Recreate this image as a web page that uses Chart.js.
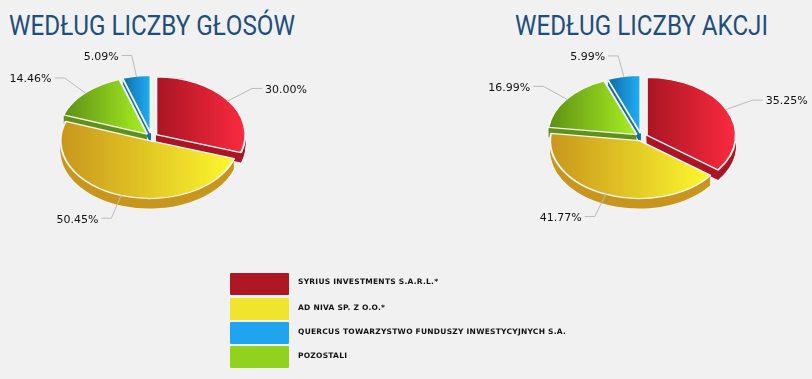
<!DOCTYPE html>
<html lang="pl">
<head>
<meta charset="utf-8">
<script src="https://cdn.jsdelivr.net/npm/chart.js@4"></script>
<style>
  html, body { margin: 0; background: #f1f1f1; }
  #page { position: relative; width: 812px; height: 379px; overflow: hidden; }
  canvas { position: absolute; top: 0; }
  .title { position: absolute; margin: 0; top: 9px; font: 400 28px Roboto, sans-serif; color: #1f4e7c; white-space: nowrap; transform-origin: left top; }
  .swatch { position: absolute; left: 230px; width: 59px; height: 22px; border-radius: 1px; }
  .name { position: absolute; left: 298px; font: bold 7.5px "DejaVu Sans", sans-serif; letter-spacing: 0.25px; color: #111; white-space: nowrap; }
</style>
</head>
<body>
<div id="page">
  <h2 class="title" id="t1" style="left:9px"></h2>
  <h2 class="title" id="t2" style="left:515px"></h2>
  <canvas id="votes" width="406" height="274" style="left:0"></canvas>
  <canvas id="shares" width="406" height="274" style="left:406px"></canvas>
</div>
<script>
const titles = ['WEDŁUG LICZBY GŁOSÓW', 'WEDŁUG LICZBY AKCJI'];
const titleWidths = [286, 253];
const holders = ['SYRIUS INVESTMENTS S.A.R.L.*', 'AD NIVA SP. Z O.O.*', 'QUERCUS TOWARZYSTWO FUNDUSZY INWESTYCYJNYCH S.A.', 'POZOSTALI'];

// slices go clockwise from 12 o'clock, so pie order differs from legend order
const sliceOrder = ['red', 'yellow', 'green', 'blue'];
const votes = [30.00, 50.45, 14.46, 5.09];
const shares = [35.25, 41.77, 16.99, 5.99];

const dark = { red: '#a91522', yellow: '#c8961c', green: '#5e8f14', blue: '#0f6ba6' };
const bright = { red: '#fc2a40', yellow: '#fdf82e', green: '#a8f022', blue: '#20aff8' };
const side = { red: '#ab1523', yellow: '#c8961c', green: '#5f9116', blue: '#106ea8' };
const legendColors = ['#ae1824', '#f0e52c', '#1fa5f0', '#90d21e'];

const legendTops = [273, 298, 322, 346];
const nameTops = [277, 303, 327, 351];

const SQUASH = 0.65;
const DEPTH = 10;
const EXPLODE = 6;
const RADIUS = 89;

const midAngle = (arc) => (arc.startAngle + arc.endAngle) / 2;

const pie3d = {
  id: 'pie3d',
  beforeDatasetDraw(chart) {
    const ctx = chart.ctx;
    const arcs = chart.getDatasetMeta(0).data;
    const area = chart.chartArea;
    const cx = (area.left + area.right) / 2, cy = (area.top + area.bottom) / 2;
    ctx.save();
    ctx.translate(cx, cy);
    ctx.scale(1, SQUASH);
    ctx.translate(-cx, -cy);

    // the option "offset" also grows big slices, so push them out by hand
    arcs.forEach((arc) => {
      arc.x = cx + Math.cos(midAngle(arc)) * EXPLODE;
      arc.y = cy + Math.sin(midAngle(arc)) * EXPLODE;
    });

    // side walls first, back slices before front ones
    [3, 2, 0, 1].forEach((i) => {
      const arc = arcs[i];
      ctx.fillStyle = side[sliceOrder[i]];
      for (let d = 1; d <= DEPTH; d++) {
        ctx.beginPath();
        ctx.moveTo(arc.x, arc.y + d / SQUASH);
        ctx.arc(arc.x, arc.y + d / SQUASH, arc.outerRadius, arc.startAngle, arc.endAngle);
        ctx.closePath();
        ctx.fill();
      }
    });

    // left to right gradient over each slice
    arcs.forEach((arc, i) => {
      const xs = [arc.x];
      for (let t = 0; t <= 20; t++) {
        const a = arc.startAngle + (arc.endAngle - arc.startAngle) * t / 20;
        xs.push(arc.x + Math.cos(a) * arc.outerRadius);
      }
      const g = ctx.createLinearGradient(Math.min(...xs), 0, Math.max(...xs), 0);
      g.addColorStop(0, dark[sliceOrder[i]]);
      g.addColorStop(1, bright[sliceOrder[i]]);
      arc.options = Object.assign({}, arc.options, { backgroundColor: g });
    });
  },
  afterDatasetDraw(chart) {
    chart.ctx.restore();
  },
  afterDraw(chart) {
    const ctx = chart.ctx;
    const arcs = chart.getDatasetMeta(0).data;
    const values = chart.data.datasets[0].data;
    const area = chart.chartArea;
    const cx = (area.left + area.right) / 2, cy = (area.top + area.bottom) / 2;
    ctx.save();
    ctx.font = '11px "DejaVu Sans", sans-serif';
    ctx.textBaseline = 'middle';
    arcs.forEach((arc, i) => {
      const m = midAngle(arc);
      const c = Math.cos(m), s = Math.sin(m);
      const x = cx + c * EXPLODE;
      const y = cy + s * EXPLODE * SQUASH;
      const rx = arc.outerRadius, ry = arc.outerRadius * SQUASH;
      const dir = c >= 0 ? 1 : -1;
      const elbowX = x + c * rx * 1.33;
      const elbowY = y + s * ry * 1.36 + (s > 0.5 ? 3 : 0);
      ctx.strokeStyle = '#bbbbbb';
      ctx.lineWidth = 1;
      ctx.beginPath();
      ctx.moveTo(x + c * rx * 0.98, y + s * ry * 0.98);
      ctx.lineTo(elbowX, elbowY);
      ctx.lineTo(elbowX + dir * 10, elbowY);
      ctx.stroke();
      ctx.fillStyle = '#111111';
      ctx.textAlign = dir > 0 ? 'left' : 'right';
      ctx.fillText(values[i].toFixed(2) + '%', elbowX + dir * 13, elbowY + 1.5);
    });
    ctx.restore();
  }
};

function makePie(id, values, padding) {
  return new Chart(document.getElementById(id), {
    type: 'pie',
    data: {
      labels: sliceOrder,
      datasets: [{
        data: values,
        backgroundColor: sliceOrder.map((k) => bright[k]),
        borderColor: '#f4f4f4',
        borderWidth: 2
      }]
    },
    options: {
      responsive: false,
      animation: false,
      radius: RADIUS,
      layout: { padding: padding },
      plugins: { legend: { display: false }, tooltip: { enabled: false } }
    },
    plugins: [pie3d]
  });
}

makePie('votes', votes, { right: 103 });
makePie('shares', shares, { left: 65 });

// no condensed font here, so squeeze the titles to the width in the picture
['t1', 't2'].forEach((id, i) => {
  const el = document.getElementById(id);
  el.textContent = titles[i];
  el.style.transform = 'scaleX(' + titleWidths[i] / el.getBoundingClientRect().width + ')';
});

const page = document.getElementById('page');
holders.forEach((name, i) => {
  const sw = document.createElement('div');
  sw.className = 'swatch';
  sw.style.top = legendTops[i] + 'px';
  sw.style.background = legendColors[i];
  page.appendChild(sw);
  const txt = document.createElement('div');
  txt.className = 'name';
  txt.style.top = nameTops[i] + 'px';
  txt.textContent = name;
  page.appendChild(txt);
});
</script>
</body>
</html>
